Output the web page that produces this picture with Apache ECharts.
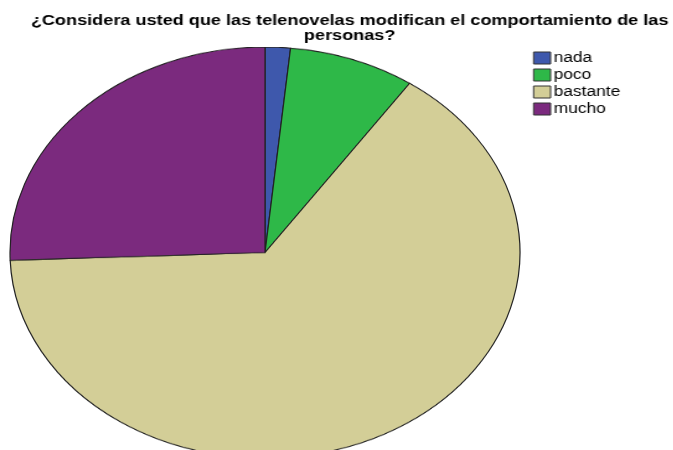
<!DOCTYPE html>
<html>
<head>
<meta charset="utf-8">
<script src="https://cdn.jsdelivr.net/npm/echarts@6/dist/echarts.min.js"></script>
<style>
html,body{margin:0;padding:0;width:673px;height:450px;overflow:hidden;background:#fff;}
#pie{position:absolute;left:0;top:46.5px;width:673px;height:510px;transform-origin:0 0;transform:scaleY(0.806);}
#top{position:absolute;left:0;top:0;width:543px;height:450px;transform-origin:0 0;transform:scaleX(1.24);}
</style>
</head>
<body>
<div id="pie"></div>
<div id="top"></div>
<script>
const titleText = '¿Considera usted que las telenovelas modifican el comportamiento de las\npersonas?';
const categories = ['nada', 'poco', 'bastante', 'mucho'];
const counts = [2, 10, 81, 32];
const colors = ['#3E58AC', '#2EB848', '#D3CE97', '#7B2A7E'];

const pieData = categories.map((c, i) => ({ name: c, value: counts[i] }));
const font = "'Liberation Sans', Arial, sans-serif";

const pieChart = echarts.init(document.getElementById('pie'), null, { renderer: 'canvas' });
pieChart.setOption({
  animation: false,
  color: colors,
  series: [{
    type: 'pie',
    center: [265, 255],
    radius: [0, 255],
    startAngle: 90,
    clockwise: true,
    label: { show: false },
    labelLine: { show: false },
    emphasis: { disabled: true },
    itemStyle: { borderColor: '#222', borderWidth: 1.2 },
    data: pieData
  }]
});

const topChart = echarts.init(document.getElementById('top'), null, { renderer: 'canvas' });
topChart.setOption({
  animation: false,
  color: colors,
  title: {
    text: titleText,
    left: 277,
    top: 8,
    textAlign: 'center',
    textStyle: { fontFamily: font, fontWeight: 'bold', fontSize: 14.6, lineHeight: 15, color: '#000' }
  },
  legend: {
    orient: 'vertical',
    left: 424.8,
    top: 46,
    itemWidth: 13.7,
    itemHeight: 12,
    itemGap: 3,
    icon: 'rect',
    selectedMode: false,
    itemStyle: { borderColor: '#333', borderWidth: 1 },
    textStyle: { fontFamily: font, fontSize: 14, lineHeight: 14, color: '#000', padding: [0, 0, 0, -2.5] },
    data: categories
  },
  series: [{
    type: 'pie',
    center: [-500, -500],
    radius: 1,
    silent: true,
    label: { show: false },
    data: pieData
  }]
});
</script>
</body>
</html>
